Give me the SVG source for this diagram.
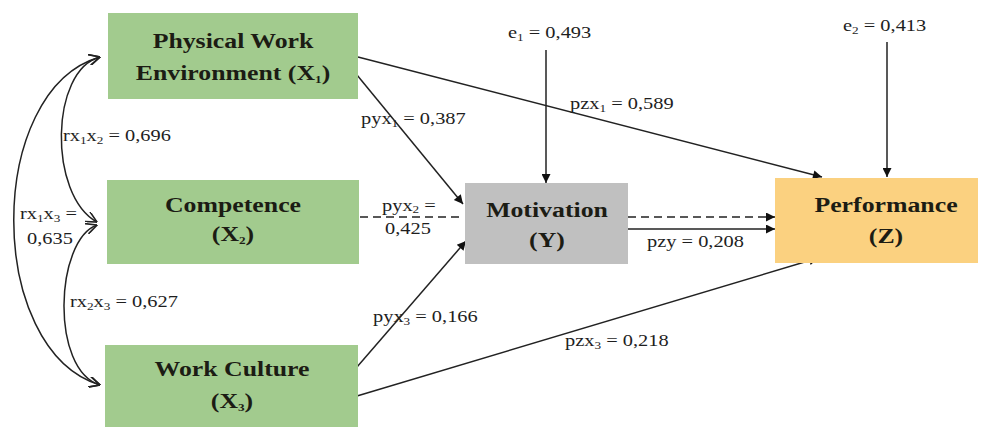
<svg xmlns="http://www.w3.org/2000/svg" width="984" height="427" viewBox="0 0 984 427">
<style>
.bg{fill:#ffffff}
.green{fill:#a2cb8e}
.gray{fill:#c0c0c0}
.orange{fill:#fbd180}
.nt{font-family:"Liberation Serif","Times New Roman",serif;font-weight:bold;font-size:21.5px;fill:#1c1c14;text-anchor:middle}
.lb{font-family:"Liberation Serif","Times New Roman",serif;font-size:17px;fill:#1e1e1e}
.sub{font-size:11px}
.ln{fill:none;stroke:#222;stroke-width:1.5}
.dash{stroke-dasharray:8 5}
</style>
<defs>
<marker id="tri" viewBox="0 0 10 10" refX="10" refY="5" markerWidth="11" markerHeight="9" markerUnits="userSpaceOnUse" orient="auto">
<path d="M0,0 L10,5 L0,10 Z" fill="#111"/>
</marker>
<marker id="open" viewBox="0 0 10 10" refX="10" refY="5" markerWidth="12" markerHeight="11" markerUnits="userSpaceOnUse" orient="auto-start-reverse">
<path d="M0,0 L10,5 L0,10" fill="none" stroke="#222" stroke-width="1.5"/>
</marker>
</defs>
<rect class="bg" x="0" y="0" width="984" height="427"/>

<g id="connectors">
<path id="c-x1x2" class="ln" d="M97,222 C48,195 50,70 100,57" marker-start="url(#open)" marker-end="url(#open)"/>
<path id="c-x1x3" class="ln" d="M100,385 C-15,350 -15,90 100,57" marker-start="url(#open)" marker-end="url(#open)"/>
<path id="c-x2x3" class="ln" d="M97,225 C55,240 50,370 100,385" marker-start="url(#open)" marker-end="url(#open)"/>
<line id="c-x1z" class="ln" x1="358" y1="57" x2="822" y2="177" marker-end="url(#tri)"/>
<line id="c-x1y" class="ln" x1="357" y1="75" x2="463" y2="204" marker-end="url(#tri)"/>
<line id="c-x2y" class="ln dash" x1="360" y1="217" x2="463" y2="217"/>
<line id="c-x3y" class="ln" x1="357" y1="367" x2="466" y2="241" marker-end="url(#tri)"/>
<line id="c-x3z" class="ln" x1="357" y1="396" x2="818" y2="258" marker-end="url(#tri)"/>
<line id="c-yz-d" class="ln dash" x1="628" y1="217" x2="775" y2="217" marker-end="url(#tri)"/>
<line id="c-yz" class="ln" x1="628" y1="229" x2="775" y2="229" marker-end="url(#tri)"/>
<line id="c-e1" class="ln" x1="546" y1="50" x2="546" y2="183" marker-end="url(#tri)"/>
<line id="c-e2" class="ln" x1="887" y1="42" x2="887" y2="177" marker-end="url(#tri)"/>
</g>

<g id="node-x1">
<rect class="green" x="108" y="13" width="250" height="86"/>
<text class="nt" transform="translate(233,48) scale(1.2,1)">Physical Work</text>
<text class="nt" transform="translate(233,80) scale(1.2,1)">Environment (X<tspan class="sub" dy="3">1</tspan><tspan dy="-3">)</tspan></text>
</g>
<g id="node-x2">
<rect class="green" x="107" y="180" width="252" height="84"/>
<text class="nt" transform="translate(233,212) scale(1.2,1)">Competence</text>
<text class="nt" transform="translate(233,241) scale(1.2,1)">(X<tspan class="sub" dy="3">2</tspan><tspan dy="-3">)</tspan></text>
</g>
<g id="node-x3">
<rect class="green" x="105" y="345" width="253" height="84"/>
<text class="nt" transform="translate(232,376) scale(1.2,1)">Work Culture</text>
<text class="nt" transform="translate(232,408) scale(1.2,1)">(X<tspan class="sub" dy="3">3</tspan><tspan dy="-3">)</tspan></text>
</g>
<g id="node-y">
<rect class="gray" x="465" y="183" width="163" height="81"/>
<text class="nt" transform="translate(547,217) scale(1.2,1)">Motivation</text>
<text class="nt" transform="translate(547,247) scale(1.2,1)">(Y)</text>
</g>
<g id="node-z">
<rect class="orange" x="775" y="178" width="203" height="85"/>
<text class="nt" transform="translate(886,212) scale(1.2,1)">Performance</text>
<text class="nt" transform="translate(886,243) scale(1.2,1)">(Z)</text>
</g>

<g id="labels">
<text class="lb" transform="translate(63,141) scale(1.2,1)">rx<tspan class="sub" dy="3">1</tspan><tspan dy="-3">x</tspan><tspan class="sub" dy="3">2</tspan><tspan dy="-3"> = 0,696</tspan></text>
<text class="lb" transform="translate(20,219) scale(1.2,1)">rx<tspan class="sub" dy="3">1</tspan><tspan dy="-3">x</tspan><tspan class="sub" dy="3">3</tspan><tspan dy="-3"> =</tspan></text>
<text class="lb" transform="translate(27,244) scale(1.2,1)">0,635</text>
<text class="lb" transform="translate(70,307) scale(1.2,1)">rx<tspan class="sub" dy="3">2</tspan><tspan dy="-3">x</tspan><tspan class="sub" dy="3">3</tspan><tspan dy="-3"> = 0,627</tspan></text>
<text class="lb" transform="translate(361,124) scale(1.2,1)">pyx<tspan class="sub" dy="3">1</tspan><tspan dy="-3"> = 0,387</tspan></text>
<text class="lb" transform="translate(570,109) scale(1.2,1)">pzx<tspan class="sub" dy="3">1</tspan><tspan dy="-3"> = 0,589</tspan></text>
<text class="lb" transform="translate(508,38) scale(1.2,1)">e<tspan class="sub" dy="3">1</tspan><tspan dy="-3"> = 0,493</tspan></text>
<text class="lb" transform="translate(843,31) scale(1.2,1)">e<tspan class="sub" dy="3">2</tspan><tspan dy="-3"> = 0,413</tspan></text>
<text class="lb" transform="translate(382,211) scale(1.2,1)">pyx<tspan class="sub" dy="2">2</tspan><tspan dy="-2"> =</tspan></text>
<text class="lb" transform="translate(385,234) scale(1.2,1)">0,425</text>
<text class="lb" transform="translate(647,247) scale(1.2,1)">pzy = 0,208</text>
<text class="lb" transform="translate(373,322) scale(1.2,1)">pyx<tspan class="sub" dy="3">3</tspan><tspan dy="-3"> = 0,166</tspan></text>
<text class="lb" transform="translate(565,346) scale(1.2,1)">pzx<tspan class="sub" dy="3">3</tspan><tspan dy="-3"> = 0,218</tspan></text>
</g>
</svg>
